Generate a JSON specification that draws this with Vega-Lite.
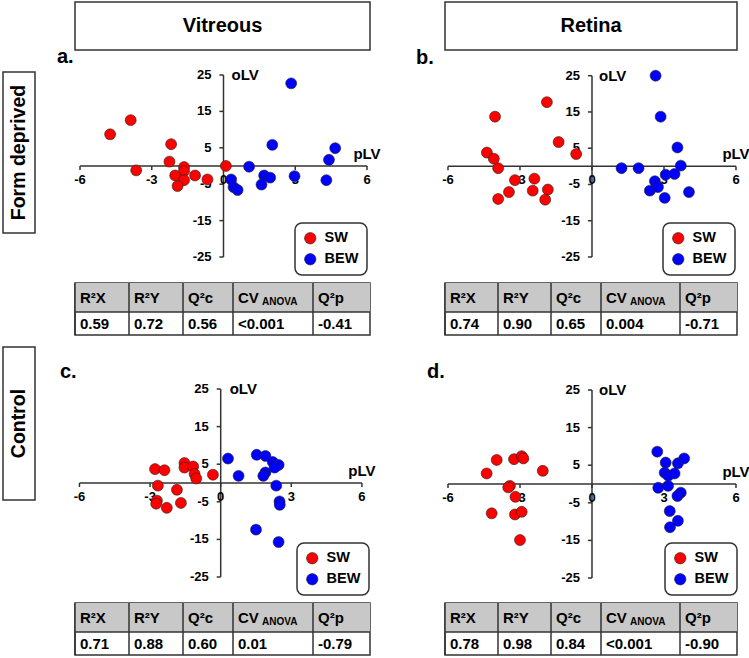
{
  "$schema": "https://vega.github.io/schema/vega-lite/v6.json",
  "background": "white",
  "padding": {"left": 2, "top": 1, "right": 0, "bottom": 0},
  "config": {
    "font": "Liberation Sans",
    "view": {"stroke": null},
    "legend": {"labelFont": "Liberation Sans", "labelFontSize": 14.5, "labelFontWeight": "bold", "labelColor": "black", "symbolSize": 130, "symbolType": "circle", "symbolStrokeColor": "#222", "symbolStrokeWidth": 0.6, "strokeColor": "#333", "strokeWidth": 1.5, "cornerRadius": 7, "padding": 8, "rowPadding": 5, "labelOffset": 7, "fillColor": "white"},
    "title": {"font": "Liberation Sans", "fontSize": 20, "fontWeight": "bold", "color": "black"}
  },
  "resolve": {"scale": {"color": "independent"}, "legend": {"color": "independent"}},
  "datasets": {
    "xticks": [{"v": -6, "t": "-6"}, {"v": -3, "t": "-3"}, {"v": 0, "t": "0"}, {"v": 3, "t": "3"}, {"v": 6, "t": "6"}],
    "yticks": [{"v": 25, "t": "25"}, {"v": 15, "t": "15"}, {"v": 5, "t": "5"}, {"v": -5, "t": "-5"}, {"v": -15, "t": "-15"}, {"v": -25, "t": "-25"}],
    "points": [
      {"panel": "a", "group": "SW", "pLV": -4.74, "oLV": 8.7},
      {"panel": "a", "group": "SW", "pLV": -3.88, "oLV": 12.6},
      {"panel": "a", "group": "SW", "pLV": -3.65, "oLV": -1.2},
      {"panel": "a", "group": "SW", "pLV": -2.19, "oLV": 6.0},
      {"panel": "a", "group": "SW", "pLV": -2.26, "oLV": 1.2},
      {"panel": "a", "group": "SW", "pLV": -1.65, "oLV": -0.3},
      {"panel": "a", "group": "SW", "pLV": -1.65, "oLV": -1.4},
      {"panel": "a", "group": "SW", "pLV": -2.02, "oLV": -2.6},
      {"panel": "a", "group": "SW", "pLV": -1.65, "oLV": -3.9},
      {"panel": "a", "group": "SW", "pLV": -1.92, "oLV": -5.5},
      {"panel": "a", "group": "SW", "pLV": -1.19, "oLV": -2.6},
      {"panel": "a", "group": "SW", "pLV": -0.67, "oLV": -3.7},
      {"panel": "a", "group": "SW", "pLV": 0.1, "oLV": 0.0},
      {"panel": "a", "group": "BEW", "pLV": 2.83, "oLV": 22.7},
      {"panel": "a", "group": "BEW", "pLV": 2.04, "oLV": 5.8},
      {"panel": "a", "group": "BEW", "pLV": 4.67, "oLV": 4.9},
      {"panel": "a", "group": "BEW", "pLV": 4.41, "oLV": 1.7},
      {"panel": "a", "group": "BEW", "pLV": 4.30, "oLV": -3.9},
      {"panel": "a", "group": "BEW", "pLV": 1.07, "oLV": -0.2},
      {"panel": "a", "group": "BEW", "pLV": 1.70, "oLV": -2.6},
      {"panel": "a", "group": "BEW", "pLV": 1.95, "oLV": -3.2},
      {"panel": "a", "group": "BEW", "pLV": 1.59, "oLV": -5.1},
      {"panel": "a", "group": "BEW", "pLV": 2.97, "oLV": -2.8},
      {"panel": "a", "group": "BEW", "pLV": 0.32, "oLV": -3.7},
      {"panel": "a", "group": "BEW", "pLV": 0.42, "oLV": -5.8},
      {"panel": "a", "group": "BEW", "pLV": 0.59, "oLV": -6.6},
      {"panel": "b", "group": "SW", "pLV": -4.04, "oLV": 13.7},
      {"panel": "b", "group": "SW", "pLV": -1.88, "oLV": 17.7},
      {"panel": "b", "group": "SW", "pLV": -1.39, "oLV": 6.7},
      {"panel": "b", "group": "SW", "pLV": -0.66, "oLV": 3.4},
      {"panel": "b", "group": "SW", "pLV": -4.38, "oLV": 3.8},
      {"panel": "b", "group": "SW", "pLV": -4.09, "oLV": 2.1},
      {"panel": "b", "group": "SW", "pLV": -3.91, "oLV": -0.5},
      {"panel": "b", "group": "SW", "pLV": -3.21, "oLV": -3.8},
      {"panel": "b", "group": "SW", "pLV": -2.40, "oLV": -3.4},
      {"panel": "b", "group": "SW", "pLV": -3.46, "oLV": -7.1},
      {"panel": "b", "group": "SW", "pLV": -2.47, "oLV": -6.7},
      {"panel": "b", "group": "SW", "pLV": -1.84, "oLV": -6.4},
      {"panel": "b", "group": "SW", "pLV": -1.95, "oLV": -9.2},
      {"panel": "b", "group": "SW", "pLV": -3.91, "oLV": -9.0},
      {"panel": "b", "group": "BEW", "pLV": 2.65, "oLV": 25.0},
      {"panel": "b", "group": "BEW", "pLV": 2.86, "oLV": 13.7},
      {"panel": "b", "group": "BEW", "pLV": 3.56, "oLV": 5.2},
      {"panel": "b", "group": "BEW", "pLV": 3.70, "oLV": 0.2},
      {"panel": "b", "group": "BEW", "pLV": 1.23, "oLV": -0.5},
      {"panel": "b", "group": "BEW", "pLV": 1.94, "oLV": -0.5},
      {"panel": "b", "group": "BEW", "pLV": 3.07, "oLV": -2.3},
      {"panel": "b", "group": "BEW", "pLV": 3.44, "oLV": -2.1},
      {"panel": "b", "group": "BEW", "pLV": 2.62, "oLV": -4.1},
      {"panel": "b", "group": "BEW", "pLV": 2.41, "oLV": -6.7},
      {"panel": "b", "group": "BEW", "pLV": 2.75, "oLV": -5.7},
      {"panel": "b", "group": "BEW", "pLV": 3.03, "oLV": -8.7},
      {"panel": "b", "group": "BEW", "pLV": 4.04, "oLV": -7.1},
      {"panel": "c", "group": "SW", "pLV": -2.79, "oLV": 3.7},
      {"panel": "c", "group": "SW", "pLV": -2.39, "oLV": 3.4},
      {"panel": "c", "group": "SW", "pLV": -2.67, "oLV": -0.7},
      {"panel": "c", "group": "SW", "pLV": -2.71, "oLV": -4.7},
      {"panel": "c", "group": "SW", "pLV": -2.74, "oLV": -5.5},
      {"panel": "c", "group": "SW", "pLV": -2.29, "oLV": -6.6},
      {"panel": "c", "group": "SW", "pLV": -1.86, "oLV": -1.8},
      {"panel": "c", "group": "SW", "pLV": -1.69, "oLV": -5.3},
      {"panel": "c", "group": "SW", "pLV": -1.54, "oLV": 5.3},
      {"panel": "c", "group": "SW", "pLV": -1.54, "oLV": 4.1},
      {"panel": "c", "group": "SW", "pLV": -1.17, "oLV": 4.4},
      {"panel": "c", "group": "SW", "pLV": -1.11, "oLV": 2.4},
      {"panel": "c", "group": "SW", "pLV": -1.04, "oLV": 1.2},
      {"panel": "c", "group": "SW", "pLV": -0.33, "oLV": 2.2},
      {"panel": "c", "group": "BEW", "pLV": 0.31, "oLV": 6.5},
      {"panel": "c", "group": "BEW", "pLV": 0.76, "oLV": 1.9},
      {"panel": "c", "group": "BEW", "pLV": 1.53, "oLV": 7.5},
      {"panel": "c", "group": "BEW", "pLV": 1.90, "oLV": 7.2},
      {"panel": "c", "group": "BEW", "pLV": 2.21, "oLV": 5.6},
      {"panel": "c", "group": "BEW", "pLV": 2.46, "oLV": 4.8},
      {"panel": "c", "group": "BEW", "pLV": 2.29, "oLV": 4.1},
      {"panel": "c", "group": "BEW", "pLV": 1.90, "oLV": 2.8},
      {"panel": "c", "group": "BEW", "pLV": 1.81, "oLV": 1.9},
      {"panel": "c", "group": "BEW", "pLV": 2.36, "oLV": -0.7},
      {"panel": "c", "group": "BEW", "pLV": 2.50, "oLV": -4.9},
      {"panel": "c", "group": "BEW", "pLV": 2.51, "oLV": -5.8},
      {"panel": "c", "group": "BEW", "pLV": 1.50, "oLV": -12.4},
      {"panel": "c", "group": "BEW", "pLV": 2.46, "oLV": -15.7},
      {"panel": "d", "group": "SW", "pLV": -4.39, "oLV": 2.8},
      {"panel": "d", "group": "SW", "pLV": -3.97, "oLV": 6.4},
      {"panel": "d", "group": "SW", "pLV": -3.25, "oLV": 6.6},
      {"panel": "d", "group": "SW", "pLV": -2.93, "oLV": 7.4},
      {"panel": "d", "group": "SW", "pLV": -2.86, "oLV": 6.8},
      {"panel": "d", "group": "SW", "pLV": -2.05, "oLV": 3.5},
      {"panel": "d", "group": "SW", "pLV": -3.42, "oLV": -0.5},
      {"panel": "d", "group": "SW", "pLV": -3.49, "oLV": -0.9},
      {"panel": "d", "group": "SW", "pLV": -3.19, "oLV": -3.4},
      {"panel": "d", "group": "SW", "pLV": -4.18, "oLV": -7.8},
      {"panel": "d", "group": "SW", "pLV": -3.21, "oLV": -8.1},
      {"panel": "d", "group": "SW", "pLV": -2.93, "oLV": -7.4},
      {"panel": "d", "group": "SW", "pLV": -3.00, "oLV": -14.9},
      {"panel": "d", "group": "BEW", "pLV": 2.72, "oLV": 8.6},
      {"panel": "d", "group": "BEW", "pLV": 3.07, "oLV": 5.7},
      {"panel": "d", "group": "BEW", "pLV": 3.58, "oLV": 5.5},
      {"panel": "d", "group": "BEW", "pLV": 3.84, "oLV": 6.8},
      {"panel": "d", "group": "BEW", "pLV": 3.03, "oLV": 3.0},
      {"panel": "d", "group": "BEW", "pLV": 3.18, "oLV": 2.2},
      {"panel": "d", "group": "BEW", "pLV": 3.44, "oLV": 2.8},
      {"panel": "d", "group": "BEW", "pLV": 2.76, "oLV": -1.0},
      {"panel": "d", "group": "BEW", "pLV": 3.17, "oLV": -0.5},
      {"panel": "d", "group": "BEW", "pLV": 3.70, "oLV": -2.3},
      {"panel": "d", "group": "BEW", "pLV": 3.56, "oLV": -3.2},
      {"panel": "d", "group": "BEW", "pLV": 3.24, "oLV": -7.2},
      {"panel": "d", "group": "BEW", "pLV": 3.58, "oLV": -9.8},
      {"panel": "d", "group": "BEW", "pLV": 3.25, "oLV": -11.5}
    ],
    "tables": [
      {"panel": "a", "col": 0, "label": "R²X", "value": "0.59"},
      {"panel": "a", "col": 1, "label": "R²Y", "value": "0.72"},
      {"panel": "a", "col": 2, "label": "Q²c", "value": "0.56"},
      {"panel": "a", "col": 3, "label": "CV", "sub": "ANOVA", "value": "<0.001"},
      {"panel": "a", "col": 4, "label": "Q²p", "value": "-0.41"},
      {"panel": "b", "col": 0, "label": "R²X", "value": "0.74"},
      {"panel": "b", "col": 1, "label": "R²Y", "value": "0.90"},
      {"panel": "b", "col": 2, "label": "Q²c", "value": "0.65"},
      {"panel": "b", "col": 3, "label": "CV", "sub": "ANOVA", "value": "0.004"},
      {"panel": "b", "col": 4, "label": "Q²p", "value": "-0.71"},
      {"panel": "c", "col": 0, "label": "R²X", "value": "0.71"},
      {"panel": "c", "col": 1, "label": "R²Y", "value": "0.88"},
      {"panel": "c", "col": 2, "label": "Q²c", "value": "0.60"},
      {"panel": "c", "col": 3, "label": "CV", "sub": "ANOVA", "value": "0.01"},
      {"panel": "c", "col": 4, "label": "Q²p", "value": "-0.79"},
      {"panel": "d", "col": 0, "label": "R²X", "value": "0.78"},
      {"panel": "d", "col": 1, "label": "R²Y", "value": "0.98"},
      {"panel": "d", "col": 2, "label": "Q²c", "value": "0.84"},
      {"panel": "d", "col": 3, "label": "CV", "sub": "ANOVA", "value": "<0.001"},
      {"panel": "d", "col": 4, "label": "Q²p", "value": "-0.90"}
    ]
  },
  "columns": 3,
  "spacing": {"row": 0, "column": 40},
  "bounds": "flush",
  "align": "each",
  "concat": [
    {"width": 32, "height": 70, "data": {"values": [{}]}, "mark": {"type": "text", "text": ""}},
    {"width": 295, "height": 48, "view": {"stroke": "#333", "strokeWidth": 1.5, "fill": "white"}, "data": {"values": [{"t": "Vitreous"}]}, "mark": {"type": "text", "fontSize": 20, "fontWeight": "bold", "align": "center", "baseline": "middle", "color": "black"}, "encoding": {"text": {"field": "t"}}},
    {"width": 292, "height": 48, "view": {"stroke": "#333", "strokeWidth": 1.5, "fill": "white"}, "data": {"values": [{"t": "Retina"}]}, "mark": {"type": "text", "fontSize": 20, "fontWeight": "bold", "align": "center", "baseline": "middle", "color": "black"}, "encoding": {"text": {"field": "t"}}},

    {"width": 32, "height": 161, "view": {"stroke": "#333", "strokeWidth": 1.5, "fill": "white"}, "data": {"values": [{"t": "Form deprived"}]}, "mark": {"type": "text", "angle": 270, "fontSize": 19.5, "fontWeight": "bold", "align": "center", "baseline": "middle", "color": "black"}, "encoding": {"text": {"field": "t"}}},
    {
      "width": 330, "height": 211,
      "title": {"text": "a.", "anchor": "start", "frame": "group", "offset": -15, "dx": -18, "baseline": "alphabetic"},
      "layer": [
        {"data": {"values": [{}]}, "mark": {"type": "rule", "color": "#333", "strokeWidth": 1.5}, "encoding": {"x": {"datum": -6, "type": "quantitative", "scale": {"domain": [-6.209, 7.589], "nice": false, "zero": false}, "axis": null}, "x2": {"datum": 6}, "y": {"datum": 0, "type": "quantitative", "scale": {"domain": [-32.14, 25.82], "nice": false, "zero": false}, "axis": null}}},
        {"data": {"values": [{}]}, "mark": {"type": "rule", "color": "#333", "strokeWidth": 1.5}, "encoding": {"x": {"datum": 0, "type": "quantitative", "scale": {"domain": [-6.209, 7.589], "nice": false, "zero": false}, "axis": null}, "y": {"datum": -25, "type": "quantitative", "scale": {"domain": [-32.14, 25.82], "nice": false, "zero": false}, "axis": null}, "y2": {"datum": 25}}},
        {"data": {"name": "xticks"}, "mark": {"type": "rule", "color": "#333", "strokeWidth": 1.5}, "encoding": {"x": {"field": "v", "type": "quantitative", "scale": {"domain": [-6.209, 7.589], "nice": false, "zero": false}, "axis": null}, "y": {"datum": 0, "type": "quantitative", "scale": {"domain": [-32.14, 25.82], "nice": false, "zero": false}, "axis": null}, "y2": {"datum": -1.1}}},
        {"data": {"name": "yticks"}, "mark": {"type": "rule", "color": "#333", "strokeWidth": 1.5}, "encoding": {"x": {"datum": -0.17, "type": "quantitative", "scale": {"domain": [-6.209, 7.589], "nice": false, "zero": false}, "axis": null}, "x2": {"datum": 0}, "y": {"field": "v", "type": "quantitative", "scale": {"domain": [-32.14, 25.82], "nice": false, "zero": false}, "axis": null}}},
        {"data": {"name": "xticks"}, "mark": {"type": "text", "align": "center", "baseline": "top", "dy": 8, "fontSize": 13, "fontWeight": "bold", "color": "black"}, "encoding": {"x": {"field": "v", "type": "quantitative", "scale": {"domain": [-6.209, 7.589], "nice": false, "zero": false}, "axis": null}, "y": {"datum": 0, "type": "quantitative", "scale": {"domain": [-32.14, 25.82], "nice": false, "zero": false}, "axis": null}, "text": {"field": "t"}}},
        {"data": {"name": "yticks"}, "mark": {"type": "text", "align": "right", "baseline": "middle", "dx": -12, "fontSize": 13, "fontWeight": "bold", "color": "black"}, "encoding": {"x": {"datum": 0, "type": "quantitative", "scale": {"domain": [-6.209, 7.589], "nice": false, "zero": false}, "axis": null}, "y": {"field": "v", "type": "quantitative", "scale": {"domain": [-32.14, 25.82], "nice": false, "zero": false}, "axis": null}, "text": {"field": "t"}}},
        {"data": {"values": [{}]}, "mark": {"type": "text", "text": "pLV", "align": "center", "baseline": "alphabetic", "dy": -7, "fontSize": 15, "fontWeight": "bold", "color": "black"}, "encoding": {"x": {"datum": 6, "type": "quantitative", "scale": {"domain": [-6.209, 7.589], "nice": false, "zero": false}, "axis": null}, "y": {"datum": 0, "type": "quantitative", "scale": {"domain": [-32.14, 25.82], "nice": false, "zero": false}, "axis": null}}},
        {"data": {"values": [{}]}, "mark": {"type": "text", "text": "oLV", "align": "left", "baseline": "alphabetic", "dx": 8, "dy": 5, "fontSize": 15, "fontWeight": "bold", "color": "black"}, "encoding": {"x": {"datum": 0, "type": "quantitative", "scale": {"domain": [-6.209, 7.589], "nice": false, "zero": false}, "axis": null}, "y": {"datum": 25, "type": "quantitative", "scale": {"domain": [-32.14, 25.82], "nice": false, "zero": false}, "axis": null}}},
        {"data": {"name": "points"}, "transform": [{"filter": "datum.panel === 'a'"}],
         "mark": {"type": "circle", "size": 120, "opacity": 1, "stroke": "#222", "strokeWidth": 0.6},
         "encoding": {
           "x": {"field": "pLV", "type": "quantitative", "scale": {"domain": [-6.209, 7.589], "nice": false, "zero": false}, "axis": null},
           "y": {"field": "oLV", "type": "quantitative", "scale": {"domain": [-32.14, 25.82], "nice": false, "zero": false}, "axis": null},
           "color": {"field": "group", "type": "nominal", "scale": {"domain": ["SW", "BEW"], "range": ["#ff0000", "#0000ff"]}, "legend": {"title": null, "orient": "none", "legendX": 220, "legendY": 151}}
         }}
      ]
    },
    {
      "width": 292, "height": 211,
      "title": {"text": "b.", "anchor": "start", "frame": "group", "offset": -15, "dx": -29, "baseline": "alphabetic"},
      "layer": [
        {"data": {"values": [{}]}, "mark": {"type": "rule", "color": "#333", "strokeWidth": 1.5}, "encoding": {"x": {"datum": -6, "type": "quantitative", "scale": {"domain": [-6.125, 6.042], "nice": false, "zero": false}, "axis": null}, "x2": {"datum": 6}, "y": {"datum": 0, "type": "quantitative", "scale": {"domain": [-32.17, 26.02], "nice": false, "zero": false}, "axis": null}}},
        {"data": {"values": [{}]}, "mark": {"type": "rule", "color": "#333", "strokeWidth": 1.5}, "encoding": {"x": {"datum": 0, "type": "quantitative", "scale": {"domain": [-6.125, 6.042], "nice": false, "zero": false}, "axis": null}, "y": {"datum": -25, "type": "quantitative", "scale": {"domain": [-32.17, 26.02], "nice": false, "zero": false}, "axis": null}, "y2": {"datum": 25}}},
        {"data": {"name": "xticks"}, "mark": {"type": "rule", "color": "#333", "strokeWidth": 1.5}, "encoding": {"x": {"field": "v", "type": "quantitative", "scale": {"domain": [-6.125, 6.042], "nice": false, "zero": false}, "axis": null}, "y": {"datum": 0, "type": "quantitative", "scale": {"domain": [-32.17, 26.02], "nice": false, "zero": false}, "axis": null}, "y2": {"datum": -1.1}}},
        {"data": {"name": "yticks"}, "mark": {"type": "rule", "color": "#333", "strokeWidth": 1.5}, "encoding": {"x": {"datum": -0.17, "type": "quantitative", "scale": {"domain": [-6.125, 6.042], "nice": false, "zero": false}, "axis": null}, "x2": {"datum": 0}, "y": {"field": "v", "type": "quantitative", "scale": {"domain": [-32.17, 26.02], "nice": false, "zero": false}, "axis": null}}},
        {"data": {"name": "xticks"}, "mark": {"type": "text", "align": "center", "baseline": "top", "dy": 8, "fontSize": 13, "fontWeight": "bold", "color": "black"}, "encoding": {"x": {"field": "v", "type": "quantitative", "scale": {"domain": [-6.125, 6.042], "nice": false, "zero": false}, "axis": null}, "y": {"datum": 0, "type": "quantitative", "scale": {"domain": [-32.17, 26.02], "nice": false, "zero": false}, "axis": null}, "text": {"field": "t"}}},
        {"data": {"name": "yticks"}, "mark": {"type": "text", "align": "right", "baseline": "middle", "dx": -12, "fontSize": 13, "fontWeight": "bold", "color": "black"}, "encoding": {"x": {"datum": 0, "type": "quantitative", "scale": {"domain": [-6.125, 6.042], "nice": false, "zero": false}, "axis": null}, "y": {"field": "v", "type": "quantitative", "scale": {"domain": [-32.17, 26.02], "nice": false, "zero": false}, "axis": null}, "text": {"field": "t"}}},
        {"data": {"values": [{}]}, "mark": {"type": "text", "text": "pLV", "align": "center", "baseline": "alphabetic", "dy": -7, "fontSize": 15, "fontWeight": "bold", "color": "black"}, "encoding": {"x": {"datum": 6, "type": "quantitative", "scale": {"domain": [-6.125, 6.042], "nice": false, "zero": false}, "axis": null}, "y": {"datum": 0, "type": "quantitative", "scale": {"domain": [-32.17, 26.02], "nice": false, "zero": false}, "axis": null}}},
        {"data": {"values": [{}]}, "mark": {"type": "text", "text": "oLV", "align": "left", "baseline": "alphabetic", "dx": 7, "dy": 5, "fontSize": 15, "fontWeight": "bold", "color": "black"}, "encoding": {"x": {"datum": 0, "type": "quantitative", "scale": {"domain": [-6.125, 6.042], "nice": false, "zero": false}, "axis": null}, "y": {"datum": 25, "type": "quantitative", "scale": {"domain": [-32.17, 26.02], "nice": false, "zero": false}, "axis": null}}},
        {"data": {"name": "points"}, "transform": [{"filter": "datum.panel === 'b'"}],
         "mark": {"type": "circle", "size": 120, "opacity": 1, "stroke": "#222", "strokeWidth": 0.6},
         "encoding": {
           "x": {"field": "pLV", "type": "quantitative", "scale": {"domain": [-6.125, 6.042], "nice": false, "zero": false}, "axis": null},
           "y": {"field": "oLV", "type": "quantitative", "scale": {"domain": [-32.17, 26.02], "nice": false, "zero": false}, "axis": null},
           "color": {"field": "group", "type": "nominal", "scale": {"domain": ["SW", "BEW"], "range": ["#ff0000", "#0000ff"]}, "legend": {"title": null, "orient": "none", "legendX": 218, "legendY": 151}}
         }}
      ]
    },

    {"width": 32, "height": 64, "data": {"values": [{}]}, "mark": {"type": "text", "text": ""}},
    {
      "width": 295, "height": 52, "view": {"stroke": "#333", "strokeWidth": 1.5},
      "layer": [
        {"data": {"values": [{}]}, "mark": {"type": "rect", "fill": "#c8c8c8"}, "encoding": {"x": {"datum": 0, "type": "quantitative", "scale": {"domain": [0, 1, 2, 3, 4, 5], "range": [0, 54, 108, 158, 238, 295], "nice": false, "zero": false}, "axis": null}, "x2": {"datum": 5}, "y": {"datum": 0, "type": "quantitative", "scale": {"domain": [0, 1, 2], "range": [0, 29, 52], "nice": false, "zero": false}, "axis": null}, "y2": {"datum": 1}}},
        {"data": {"values": [{}]}, "mark": {"type": "rule", "color": "#333", "strokeWidth": 1.5}, "encoding": {"x": {"datum": 0, "type": "quantitative", "axis": null}, "x2": {"datum": 5}, "y": {"datum": 1, "type": "quantitative", "axis": null}}},
        {"data": {"name": "tables"}, "transform": [{"filter": "datum.panel === 'a'"}], "mark": {"type": "rule", "color": "#333", "strokeWidth": 1.5}, "encoding": {"x": {"field": "col", "type": "quantitative", "axis": null}, "y": {"datum": 0, "type": "quantitative", "axis": null}, "y2": {"datum": 2}}},
        {"data": {"name": "tables"}, "transform": [{"filter": "datum.panel === 'a'"}], "mark": {"type": "text", "align": "left", "baseline": "middle", "dx": 5, "fontSize": 15, "fontWeight": "bold", "color": "black"}, "encoding": {"x": {"field": "col", "type": "quantitative", "axis": null}, "y": {"datum": 0.5, "type": "quantitative", "axis": null}, "text": {"field": "label"}}},
        {"data": {"name": "tables"}, "transform": [{"filter": "datum.panel === 'a' && isValid(datum.sub)"}], "mark": {"type": "text", "align": "left", "baseline": "middle", "dx": 29, "dy": 4, "fontSize": 10, "fontWeight": "bold", "color": "black"}, "encoding": {"x": {"field": "col", "type": "quantitative", "axis": null}, "y": {"datum": 0.5, "type": "quantitative", "axis": null}, "text": {"field": "sub"}}},
        {"data": {"name": "tables"}, "transform": [{"filter": "datum.panel === 'a'"}], "mark": {"type": "text", "align": "left", "baseline": "middle", "dx": 5, "fontSize": 15, "fontWeight": "bold", "color": "black"}, "encoding": {"x": {"field": "col", "type": "quantitative", "axis": null}, "y": {"datum": 1.5, "type": "quantitative", "axis": null}, "text": {"field": "value"}}}
      ]
    },
    {
      "width": 292, "height": 52, "view": {"stroke": "#333", "strokeWidth": 1.5},
      "layer": [
        {"data": {"values": [{}]}, "mark": {"type": "rect", "fill": "#c8c8c8"}, "encoding": {"x": {"datum": 0, "type": "quantitative", "scale": {"domain": [0, 1, 2, 3, 4, 5], "range": [0, 53, 106, 156, 235, 292], "nice": false, "zero": false}, "axis": null}, "x2": {"datum": 5}, "y": {"datum": 0, "type": "quantitative", "scale": {"domain": [0, 1, 2], "range": [0, 29, 52], "nice": false, "zero": false}, "axis": null}, "y2": {"datum": 1}}},
        {"data": {"values": [{}]}, "mark": {"type": "rule", "color": "#333", "strokeWidth": 1.5}, "encoding": {"x": {"datum": 0, "type": "quantitative", "axis": null}, "x2": {"datum": 5}, "y": {"datum": 1, "type": "quantitative", "axis": null}}},
        {"data": {"name": "tables"}, "transform": [{"filter": "datum.panel === 'b'"}], "mark": {"type": "rule", "color": "#333", "strokeWidth": 1.5}, "encoding": {"x": {"field": "col", "type": "quantitative", "axis": null}, "y": {"datum": 0, "type": "quantitative", "axis": null}, "y2": {"datum": 2}}},
        {"data": {"name": "tables"}, "transform": [{"filter": "datum.panel === 'b'"}], "mark": {"type": "text", "align": "left", "baseline": "middle", "dx": 5, "fontSize": 15, "fontWeight": "bold", "color": "black"}, "encoding": {"x": {"field": "col", "type": "quantitative", "axis": null}, "y": {"datum": 0.5, "type": "quantitative", "axis": null}, "text": {"field": "label"}}},
        {"data": {"name": "tables"}, "transform": [{"filter": "datum.panel === 'b' && isValid(datum.sub)"}], "mark": {"type": "text", "align": "left", "baseline": "middle", "dx": 29, "dy": 4, "fontSize": 10, "fontWeight": "bold", "color": "black"}, "encoding": {"x": {"field": "col", "type": "quantitative", "axis": null}, "y": {"datum": 0.5, "type": "quantitative", "axis": null}, "text": {"field": "sub"}}},
        {"data": {"name": "tables"}, "transform": [{"filter": "datum.panel === 'b'"}], "mark": {"type": "text", "align": "left", "baseline": "middle", "dx": 5, "fontSize": 15, "fontWeight": "bold", "color": "black"}, "encoding": {"x": {"field": "col", "type": "quantitative", "axis": null}, "y": {"datum": 1.5, "type": "quantitative", "axis": null}, "text": {"field": "value"}}}
      ]
    },

    {"width": 32, "height": 153, "view": {"stroke": "#333", "strokeWidth": 1.5, "fill": "white"}, "data": {"values": [{"t": "Control"}]}, "mark": {"type": "text", "angle": 270, "fontSize": 19.5, "fontWeight": "bold", "align": "center", "baseline": "middle", "color": "black"}, "encoding": {"text": {"field": "t"}}},
    {
      "width": 330, "height": 256,
      "title": {"text": "c.", "anchor": "start", "frame": "group", "offset": -51, "dx": -15, "baseline": "alphabetic"},
      "layer": [
        {"data": {"values": [{}]}, "mark": {"type": "rule", "color": "#333", "strokeWidth": 1.5}, "encoding": {"x": {"datum": -6, "type": "quantitative", "scale": {"domain": [-6.19, 7.83], "nice": false, "zero": false}, "axis": null}, "x2": {"datum": 6}, "y": {"datum": 0, "type": "quantitative", "scale": {"domain": [-31.91, 36.17], "nice": false, "zero": false}, "axis": null}}},
        {"data": {"values": [{}]}, "mark": {"type": "rule", "color": "#333", "strokeWidth": 1.5}, "encoding": {"x": {"datum": 0, "type": "quantitative", "scale": {"domain": [-6.19, 7.83], "nice": false, "zero": false}, "axis": null}, "y": {"datum": -25, "type": "quantitative", "scale": {"domain": [-31.91, 36.17], "nice": false, "zero": false}, "axis": null}, "y2": {"datum": 25}}},
        {"data": {"name": "xticks"}, "mark": {"type": "rule", "color": "#333", "strokeWidth": 1.5}, "encoding": {"x": {"field": "v", "type": "quantitative", "scale": {"domain": [-6.19, 7.83], "nice": false, "zero": false}, "axis": null}, "y": {"datum": 0, "type": "quantitative", "scale": {"domain": [-31.91, 36.17], "nice": false, "zero": false}, "axis": null}, "y2": {"datum": -1.06}}},
        {"data": {"name": "yticks"}, "mark": {"type": "rule", "color": "#333", "strokeWidth": 1.5}, "encoding": {"x": {"datum": -0.17, "type": "quantitative", "scale": {"domain": [-6.19, 7.83], "nice": false, "zero": false}, "axis": null}, "x2": {"datum": 0}, "y": {"field": "v", "type": "quantitative", "scale": {"domain": [-31.91, 36.17], "nice": false, "zero": false}, "axis": null}}},
        {"data": {"name": "xticks"}, "mark": {"type": "text", "align": "center", "baseline": "top", "dy": 8, "fontSize": 13, "fontWeight": "bold", "color": "black"}, "encoding": {"x": {"field": "v", "type": "quantitative", "scale": {"domain": [-6.19, 7.83], "nice": false, "zero": false}, "axis": null}, "y": {"datum": 0, "type": "quantitative", "scale": {"domain": [-31.91, 36.17], "nice": false, "zero": false}, "axis": null}, "text": {"field": "t"}}},
        {"data": {"name": "yticks"}, "mark": {"type": "text", "align": "right", "baseline": "middle", "dx": -12, "fontSize": 13, "fontWeight": "bold", "color": "black"}, "encoding": {"x": {"datum": 0, "type": "quantitative", "scale": {"domain": [-6.19, 7.83], "nice": false, "zero": false}, "axis": null}, "y": {"field": "v", "type": "quantitative", "scale": {"domain": [-31.91, 36.17], "nice": false, "zero": false}, "axis": null}, "text": {"field": "t"}}},
        {"data": {"values": [{}]}, "mark": {"type": "text", "text": "pLV", "align": "center", "baseline": "alphabetic", "dy": -7, "fontSize": 15, "fontWeight": "bold", "color": "black"}, "encoding": {"x": {"datum": 6, "type": "quantitative", "scale": {"domain": [-6.19, 7.83], "nice": false, "zero": false}, "axis": null}, "y": {"datum": 0, "type": "quantitative", "scale": {"domain": [-31.91, 36.17], "nice": false, "zero": false}, "axis": null}}},
        {"data": {"values": [{}]}, "mark": {"type": "text", "text": "oLV", "align": "left", "baseline": "alphabetic", "dx": 9, "dy": 5, "fontSize": 15, "fontWeight": "bold", "color": "black"}, "encoding": {"x": {"datum": 0, "type": "quantitative", "scale": {"domain": [-6.19, 7.83], "nice": false, "zero": false}, "axis": null}, "y": {"datum": 25, "type": "quantitative", "scale": {"domain": [-31.91, 36.17], "nice": false, "zero": false}, "axis": null}}},
        {"data": {"name": "points"}, "transform": [{"filter": "datum.panel === 'c'"}],
         "mark": {"type": "circle", "size": 120, "opacity": 1, "stroke": "#222", "strokeWidth": 0.6},
         "encoding": {
           "x": {"field": "pLV", "type": "quantitative", "scale": {"domain": [-6.19, 7.83], "nice": false, "zero": false}, "axis": null},
           "y": {"field": "oLV", "type": "quantitative", "scale": {"domain": [-31.91, 36.17], "nice": false, "zero": false}, "axis": null},
           "color": {"field": "group", "type": "nominal", "scale": {"domain": ["SW", "BEW"], "range": ["#ff0000", "#0000ff"]}, "legend": {"title": null, "orient": "none", "legendX": 222, "legendY": 196}}
         }}
      ]
    },
    {
      "width": 292, "height": 256,
      "title": {"text": "d.", "anchor": "start", "frame": "group", "offset": -51, "dx": -18, "baseline": "alphabetic"},
      "layer": [
        {"data": {"values": [{}]}, "mark": {"type": "rule", "color": "#333", "strokeWidth": 1.5}, "encoding": {"x": {"datum": -6, "type": "quantitative", "scale": {"domain": [-6.125, 6.042], "nice": false, "zero": false}, "axis": null}, "x2": {"datum": 6}, "y": {"datum": 0, "type": "quantitative", "scale": {"domain": [-31.65, 36.44], "nice": false, "zero": false}, "axis": null}}},
        {"data": {"values": [{}]}, "mark": {"type": "rule", "color": "#333", "strokeWidth": 1.5}, "encoding": {"x": {"datum": 0, "type": "quantitative", "scale": {"domain": [-6.125, 6.042], "nice": false, "zero": false}, "axis": null}, "y": {"datum": -25, "type": "quantitative", "scale": {"domain": [-31.65, 36.44], "nice": false, "zero": false}, "axis": null}, "y2": {"datum": 25}}},
        {"data": {"name": "xticks"}, "mark": {"type": "rule", "color": "#333", "strokeWidth": 1.5}, "encoding": {"x": {"field": "v", "type": "quantitative", "scale": {"domain": [-6.125, 6.042], "nice": false, "zero": false}, "axis": null}, "y": {"datum": 0, "type": "quantitative", "scale": {"domain": [-31.65, 36.44], "nice": false, "zero": false}, "axis": null}, "y2": {"datum": -1.06}}},
        {"data": {"name": "yticks"}, "mark": {"type": "rule", "color": "#333", "strokeWidth": 1.5}, "encoding": {"x": {"datum": -0.17, "type": "quantitative", "scale": {"domain": [-6.125, 6.042], "nice": false, "zero": false}, "axis": null}, "x2": {"datum": 0}, "y": {"field": "v", "type": "quantitative", "scale": {"domain": [-31.65, 36.44], "nice": false, "zero": false}, "axis": null}}},
        {"data": {"name": "xticks"}, "mark": {"type": "text", "align": "center", "baseline": "top", "dy": 8, "fontSize": 13, "fontWeight": "bold", "color": "black"}, "encoding": {"x": {"field": "v", "type": "quantitative", "scale": {"domain": [-6.125, 6.042], "nice": false, "zero": false}, "axis": null}, "y": {"datum": 0, "type": "quantitative", "scale": {"domain": [-31.65, 36.44], "nice": false, "zero": false}, "axis": null}, "text": {"field": "t"}}},
        {"data": {"name": "yticks"}, "mark": {"type": "text", "align": "right", "baseline": "middle", "dx": -12, "fontSize": 13, "fontWeight": "bold", "color": "black"}, "encoding": {"x": {"datum": 0, "type": "quantitative", "scale": {"domain": [-6.125, 6.042], "nice": false, "zero": false}, "axis": null}, "y": {"field": "v", "type": "quantitative", "scale": {"domain": [-31.65, 36.44], "nice": false, "zero": false}, "axis": null}, "text": {"field": "t"}}},
        {"data": {"values": [{}]}, "mark": {"type": "text", "text": "pLV", "align": "center", "baseline": "alphabetic", "dy": -7, "fontSize": 15, "fontWeight": "bold", "color": "black"}, "encoding": {"x": {"datum": 6, "type": "quantitative", "scale": {"domain": [-6.125, 6.042], "nice": false, "zero": false}, "axis": null}, "y": {"datum": 0, "type": "quantitative", "scale": {"domain": [-31.65, 36.44], "nice": false, "zero": false}, "axis": null}}},
        {"data": {"values": [{}]}, "mark": {"type": "text", "text": "oLV", "align": "left", "baseline": "alphabetic", "dx": 7, "dy": 5, "fontSize": 15, "fontWeight": "bold", "color": "black"}, "encoding": {"x": {"datum": 0, "type": "quantitative", "scale": {"domain": [-6.125, 6.042], "nice": false, "zero": false}, "axis": null}, "y": {"datum": 25, "type": "quantitative", "scale": {"domain": [-31.65, 36.44], "nice": false, "zero": false}, "axis": null}}},
        {"data": {"name": "points"}, "transform": [{"filter": "datum.panel === 'd'"}],
         "mark": {"type": "circle", "size": 120, "opacity": 1, "stroke": "#222", "strokeWidth": 0.6},
         "encoding": {
           "x": {"field": "pLV", "type": "quantitative", "scale": {"domain": [-6.125, 6.042], "nice": false, "zero": false}, "axis": null},
           "y": {"field": "oLV", "type": "quantitative", "scale": {"domain": [-31.65, 36.44], "nice": false, "zero": false}, "axis": null},
           "color": {"field": "group", "type": "nominal", "scale": {"domain": ["SW", "BEW"], "range": ["#ff0000", "#0000ff"]}, "legend": {"title": null, "orient": "none", "legendX": 220, "legendY": 196}}
         }}
      ]
    },

    {"width": 32, "height": 52, "data": {"values": [{}]}, "mark": {"type": "text", "text": ""}},
    {
      "width": 295, "height": 52, "view": {"stroke": "#333", "strokeWidth": 1.5},
      "layer": [
        {"data": {"values": [{}]}, "mark": {"type": "rect", "fill": "#c8c8c8"}, "encoding": {"x": {"datum": 0, "type": "quantitative", "scale": {"domain": [0, 1, 2, 3, 4, 5], "range": [0, 54, 108, 158, 238, 295], "nice": false, "zero": false}, "axis": null}, "x2": {"datum": 5}, "y": {"datum": 0, "type": "quantitative", "scale": {"domain": [0, 1, 2], "range": [0, 29, 52], "nice": false, "zero": false}, "axis": null}, "y2": {"datum": 1}}},
        {"data": {"values": [{}]}, "mark": {"type": "rule", "color": "#333", "strokeWidth": 1.5}, "encoding": {"x": {"datum": 0, "type": "quantitative", "axis": null}, "x2": {"datum": 5}, "y": {"datum": 1, "type": "quantitative", "axis": null}}},
        {"data": {"name": "tables"}, "transform": [{"filter": "datum.panel === 'c'"}], "mark": {"type": "rule", "color": "#333", "strokeWidth": 1.5}, "encoding": {"x": {"field": "col", "type": "quantitative", "axis": null}, "y": {"datum": 0, "type": "quantitative", "axis": null}, "y2": {"datum": 2}}},
        {"data": {"name": "tables"}, "transform": [{"filter": "datum.panel === 'c'"}], "mark": {"type": "text", "align": "left", "baseline": "middle", "dx": 5, "fontSize": 15, "fontWeight": "bold", "color": "black"}, "encoding": {"x": {"field": "col", "type": "quantitative", "axis": null}, "y": {"datum": 0.5, "type": "quantitative", "axis": null}, "text": {"field": "label"}}},
        {"data": {"name": "tables"}, "transform": [{"filter": "datum.panel === 'c' && isValid(datum.sub)"}], "mark": {"type": "text", "align": "left", "baseline": "middle", "dx": 29, "dy": 4, "fontSize": 10, "fontWeight": "bold", "color": "black"}, "encoding": {"x": {"field": "col", "type": "quantitative", "axis": null}, "y": {"datum": 0.5, "type": "quantitative", "axis": null}, "text": {"field": "sub"}}},
        {"data": {"name": "tables"}, "transform": [{"filter": "datum.panel === 'c'"}], "mark": {"type": "text", "align": "left", "baseline": "middle", "dx": 5, "fontSize": 15, "fontWeight": "bold", "color": "black"}, "encoding": {"x": {"field": "col", "type": "quantitative", "axis": null}, "y": {"datum": 1.5, "type": "quantitative", "axis": null}, "text": {"field": "value"}}}
      ]
    },
    {
      "width": 292, "height": 52, "view": {"stroke": "#333", "strokeWidth": 1.5},
      "layer": [
        {"data": {"values": [{}]}, "mark": {"type": "rect", "fill": "#c8c8c8"}, "encoding": {"x": {"datum": 0, "type": "quantitative", "scale": {"domain": [0, 1, 2, 3, 4, 5], "range": [0, 53, 106, 156, 235, 292], "nice": false, "zero": false}, "axis": null}, "x2": {"datum": 5}, "y": {"datum": 0, "type": "quantitative", "scale": {"domain": [0, 1, 2], "range": [0, 29, 52], "nice": false, "zero": false}, "axis": null}, "y2": {"datum": 1}}},
        {"data": {"values": [{}]}, "mark": {"type": "rule", "color": "#333", "strokeWidth": 1.5}, "encoding": {"x": {"datum": 0, "type": "quantitative", "axis": null}, "x2": {"datum": 5}, "y": {"datum": 1, "type": "quantitative", "axis": null}}},
        {"data": {"name": "tables"}, "transform": [{"filter": "datum.panel === 'd'"}], "mark": {"type": "rule", "color": "#333", "strokeWidth": 1.5}, "encoding": {"x": {"field": "col", "type": "quantitative", "axis": null}, "y": {"datum": 0, "type": "quantitative", "axis": null}, "y2": {"datum": 2}}},
        {"data": {"name": "tables"}, "transform": [{"filter": "datum.panel === 'd'"}], "mark": {"type": "text", "align": "left", "baseline": "middle", "dx": 5, "fontSize": 15, "fontWeight": "bold", "color": "black"}, "encoding": {"x": {"field": "col", "type": "quantitative", "axis": null}, "y": {"datum": 0.5, "type": "quantitative", "axis": null}, "text": {"field": "label"}}},
        {"data": {"name": "tables"}, "transform": [{"filter": "datum.panel === 'd' && isValid(datum.sub)"}], "mark": {"type": "text", "align": "left", "baseline": "middle", "dx": 29, "dy": 4, "fontSize": 10, "fontWeight": "bold", "color": "black"}, "encoding": {"x": {"field": "col", "type": "quantitative", "axis": null}, "y": {"datum": 0.5, "type": "quantitative", "axis": null}, "text": {"field": "sub"}}},
        {"data": {"name": "tables"}, "transform": [{"filter": "datum.panel === 'd'"}], "mark": {"type": "text", "align": "left", "baseline": "middle", "dx": 5, "fontSize": 15, "fontWeight": "bold", "color": "black"}, "encoding": {"x": {"field": "col", "type": "quantitative", "axis": null}, "y": {"datum": 1.5, "type": "quantitative", "axis": null}, "text": {"field": "value"}}}
      ]
    }
  ]
}
